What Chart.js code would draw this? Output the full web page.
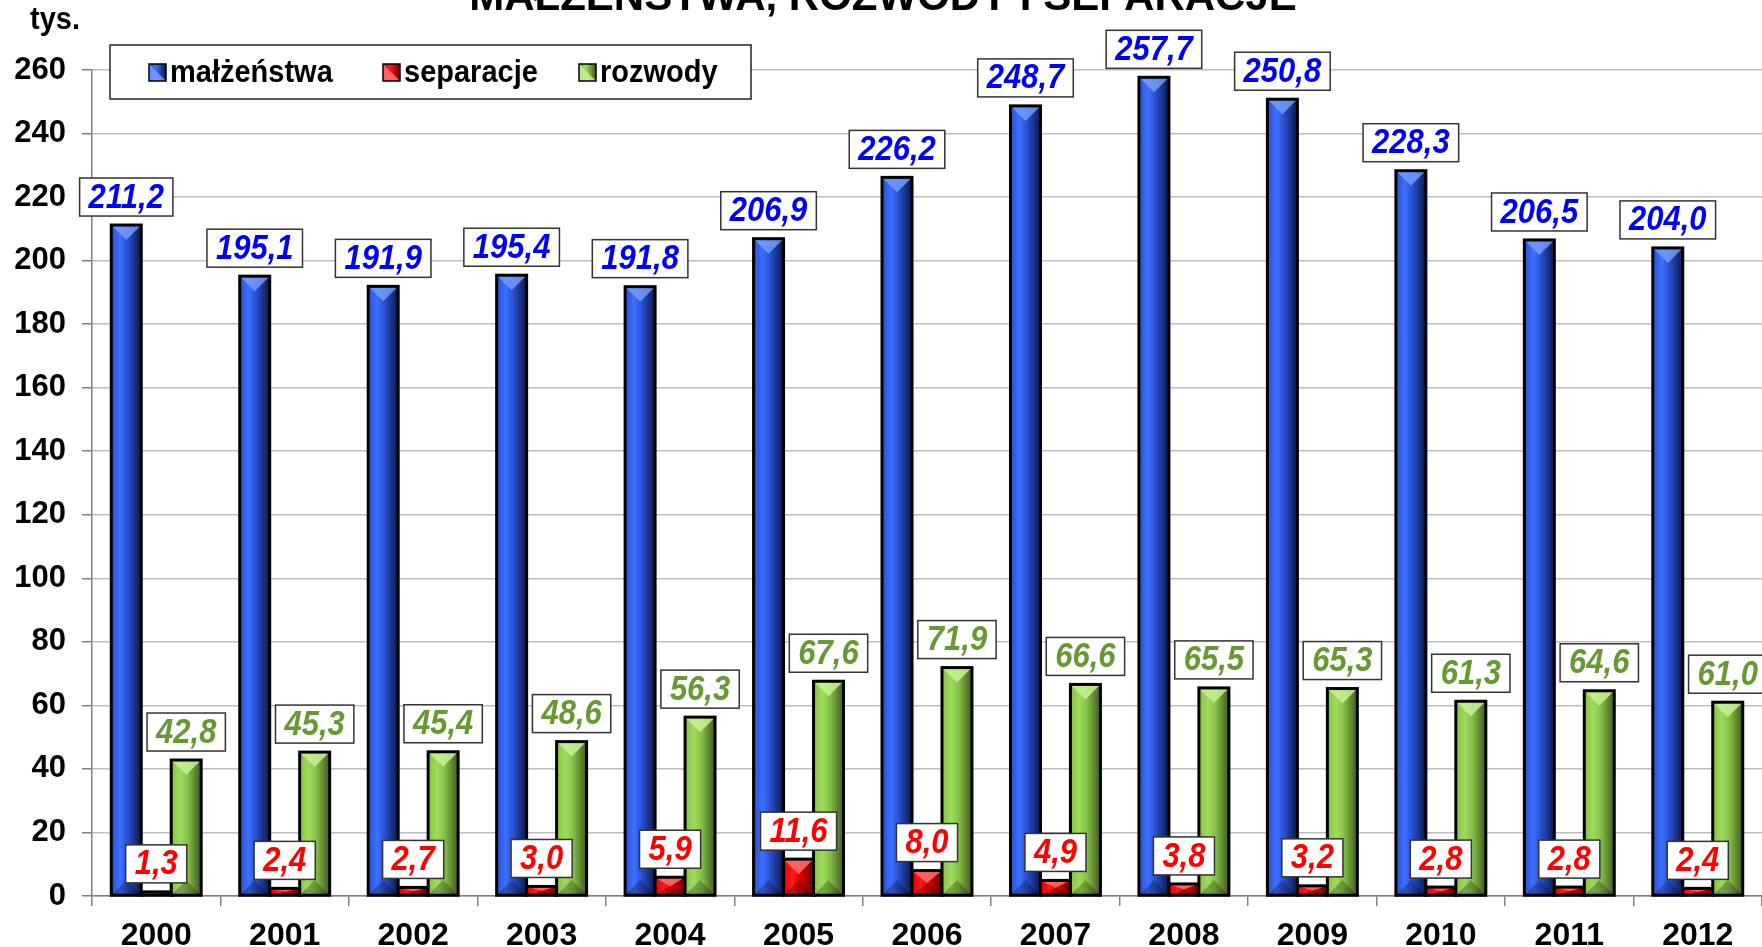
<!DOCTYPE html>
<html>
<head>
<meta charset="utf-8">
<script src="https://cdn.jsdelivr.net/npm/chart.js@4.4.1/dist/chart.umd.min.js"></script>
<style>
  html, body { margin: 0; padding: 0; background: #fff; }
  #wrap { width: 1762px; height: 947px; position: relative; }
</style>
</head>
<body>
<div id="wrap"><canvas id="chart"></canvas></div>
<script>
const years = ['2000', '2001', '2002', '2003', '2004', '2005', '2006', '2007', '2008', '2009', '2010', '2011', '2012'];
const marriages = [211.2, 195.1, 191.9, 195.4, 191.8, 206.9, 226.2, 248.7, 257.7, 250.8, 228.3, 206.5, 204.0];
const separations = [1.3, 2.4, 2.7, 3.0, 5.9, 11.6, 8.0, 4.9, 3.8, 3.2, 2.8, 2.8, 2.4];
const divorces = [42.8, 45.3, 45.4, 48.6, 56.3, 67.6, 71.9, 66.6, 65.5, 65.3, 61.3, 64.6, 61.0];
const seriesNames = ['małżeństwa', 'separacje', 'rozwody'];
const yTicks = [0, 20, 40, 60, 80, 100, 120, 140, 160, 180, 200, 220, 240, 260];

const FONT = '"Liberation Sans", Arial, Helvetica, sans-serif';

// colours for the fake 3D look of each series
const shades = [
  { base: '#2f5fe8', light: '#3d6fff', mid: '#2850d0', dark: '#0b1848', bevel: 'rgba(120,160,255,0.8)', text: '#0000ff' },
  { base: '#ee0000', light: '#ff1a1a', mid: '#e00000', dark: '#6a0000', bevel: 'rgba(255,120,120,0.8)', text: '#ff0000' },
  { base: '#8cc84b', light: '#9fdc5a', mid: '#86c04a', dark: '#3f5a1a', bevel: 'rgba(200,240,150,0.85)', text: '#669933' }
];

function fmt(v) {
  return v.toFixed(1).replace('.', ',');
}

// text in the original is a bit taller than normal
function tallText(ctx, txt, x, y, sy) {
  ctx.save();
  ctx.translate(x, y);
  ctx.scale(1, sy);
  ctx.fillText(txt, 0, 0);
  ctx.restore();
}

const barShading = {
  id: 'barShading',
  afterDatasetsDraw(chart) {
    const ctx = chart.ctx;
    chart.data.datasets.forEach((ds, di) => {
      const c = shades[di];
      chart.getDatasetMeta(di).data.forEach(bar => {
        const { x, y, base, width } = bar.getProps(['x', 'y', 'base', 'width'], true);
        const l = x - width / 2, r = x + width / 2, h = base - y;
        ctx.save();
        const g = ctx.createLinearGradient(l, 0, r, 0);
        g.addColorStop(0, c.mid);
        g.addColorStop(0.3, c.light);
        g.addColorStop(0.55, c.mid);
        g.addColorStop(1, c.dark);
        ctx.fillStyle = g;
        ctx.fillRect(l, y, width, h);
        const t = Math.min(width / 2, h / 2);
        ctx.fillStyle = c.bevel;
        ctx.beginPath();
        ctx.moveTo(l, y); ctx.lineTo(r, y); ctx.lineTo(x, y + t);
        ctx.closePath(); ctx.fill();
        ctx.fillStyle = 'rgba(0,0,0,0.25)';
        ctx.beginPath();
        ctx.moveTo(l, base); ctx.lineTo(r, base); ctx.lineTo(x, base - t);
        ctx.closePath(); ctx.fill();
        ctx.strokeStyle = '#000';
        ctx.lineWidth = 3;
        ctx.strokeRect(l, y, width, h);
        ctx.restore();
      });
    });
  }
};

const valueLabels = {
  id: 'valueLabels',
  afterDatasetsDraw(chart) {
    const ctx = chart.ctx;
    ctx.save();
    ctx.font = 'italic bold 31px ' + FONT;
    ctx.textAlign = 'center';
    ctx.textBaseline = 'middle';
    chart.data.datasets.forEach((ds, di) => {
      chart.getDatasetMeta(di).data.forEach((bar, i) => {
        const txt = fmt(ds.data[i]);
        const w = ctx.measureText(txt).width + 18;
        const h = 38;
        const cy = bar.y - 9 - h / 2;
        ctx.fillStyle = '#fff';
        ctx.fillRect(bar.x - w / 2, cy - h / 2, w, h);
        ctx.strokeStyle = '#333';
        ctx.lineWidth = 1.5;
        ctx.strokeRect(bar.x - w / 2, cy - h / 2, w, h);
        ctx.fillStyle = shades[di].text;
        tallText(ctx, txt, bar.x, cy + 1, 1.12);
      });
    });
    ctx.restore();
  }
};

const decorations = {
  id: 'decorations',
  afterDraw(chart) {
    const ctx = chart.ctx;
    ctx.save();
    // title, cut off at the top of the picture
    ctx.font = 'bold 42px ' + FONT;
    ctx.fillStyle = '#000';
    ctx.textAlign = 'center';
    ctx.textBaseline = 'alphabetic';
    ctx.fillText('MAŁŻEŃSTWA, ROZWODY I SEPARACJE', 883, 10);
    // unit
    ctx.font = 'bold 29px ' + FONT;
    ctx.textAlign = 'left';
    tallText(ctx, 'tys.', 30, 29, 1.08);
    // legend box
    const lx = 110, ly = 45, lw = 641, lh = 54;
    ctx.fillStyle = '#fff';
    ctx.fillRect(lx, ly, lw, lh);
    ctx.strokeStyle = '#222';
    ctx.lineWidth = 1.5;
    ctx.strokeRect(lx, ly, lw, lh);
    const items = [149, 383, 579];
    ctx.font = 'bold 29px ' + FONT;
    ctx.textBaseline = 'middle';
    seriesNames.forEach((name, i) => {
      const c = shades[i];
      const x0 = items[i], y0 = 64, s = 17;
      const g = ctx.createLinearGradient(x0, 0, x0 + s, 0);
      g.addColorStop(0, c.mid); g.addColorStop(0.4, c.light); g.addColorStop(1, c.dark);
      ctx.fillStyle = g;
      ctx.fillRect(x0, y0, s, s);
      ctx.fillStyle = c.bevel;
      ctx.beginPath();
      ctx.moveTo(x0, y0); ctx.lineTo(x0 + s, y0 + s); ctx.lineTo(x0, y0 + s); ctx.closePath(); ctx.fill();
      ctx.strokeStyle = '#000'; ctx.lineWidth = 1.5;
      ctx.strokeRect(x0, y0, s, s);
      ctx.fillStyle = '#000';
      tallText(ctx, name, x0 + s + 4, 73, 1.08);
    });
    ctx.restore();
  }
};

new Chart(document.getElementById('chart'), {
  type: 'bar',
  data: {
    labels: years,
    datasets: [
      { label: seriesNames[0], data: marriages, backgroundColor: shades[0].base },
      { label: seriesNames[1], data: separations, backgroundColor: shades[1].base },
      { label: seriesNames[2], data: divorces, backgroundColor: shades[2].base }
    ]
  },
  options: {
    responsive: true,
    maintainAspectRatio: false,
    devicePixelRatio: 1,
    animation: false,
    categoryPercentage: 0.7,
    barPercentage: 1.0,
    layout: { padding: { top: 70, right: 0, left: 0, bottom: 0 } },
    plugins: { legend: { display: false }, title: { display: false }, tooltip: { enabled: false } },
    scales: {
      x: {
        afterFit: s => { s.height = 51; },
        grid: { offset: true, drawOnChartArea: false, drawTicks: true, tickLength: 10, color: '#808080', lineWidth: 1.5 },
        border: { color: '#808080', width: 1.5 },
        ticks: { color: '#000', font: { family: FONT, size: 32, weight: 'bold' }, padding: 11, maxRotation: 0 }
      },
      y: {
        min: 0,
        max: 260,
        afterFit: s => { s.width = 92; },
        afterBuildTicks: s => { s.ticks = yTicks.map(v => ({ value: v })); },
        grid: { color: '#bdbdbd', lineWidth: 1.5, tickLength: 10, tickColor: '#808080' },
        border: { color: '#808080', width: 1.5 },
        ticks: { color: '#000', font: { family: FONT, size: 31, weight: 'bold' }, padding: 16 }
      }
    }
  },
  plugins: [barShading, valueLabels, decorations]
});
</script>
</body>
</html>
